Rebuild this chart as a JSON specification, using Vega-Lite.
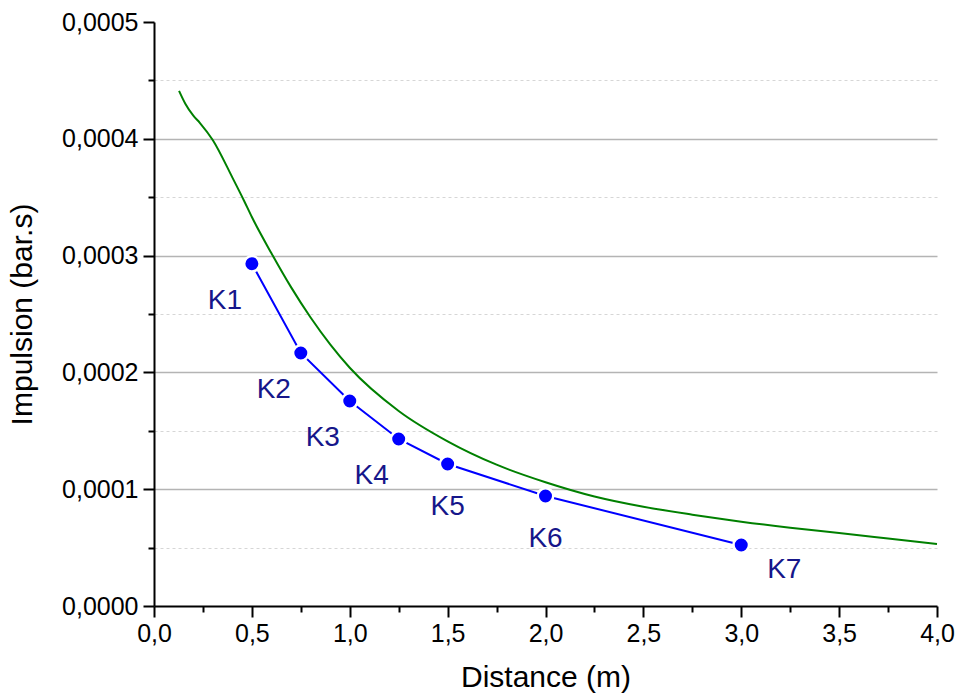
{
  "$schema": "https://vega.github.io/schema/vega-lite/v6.json",
  "width": 783,
  "height": 584,
  "autosize": {"type": "none"},
  "padding": {"left": 154, "top": 22, "right": 20, "bottom": 88},
  "background": "white",
  "config": {
    "view": {"stroke": null},
    "font": "Liberation Sans"
  },
  "datasets": {
    "curve": [
      {"d": 0.128, "imp": 0.000441},
      {"d": 0.16, "imp": 0.000430},
      {"d": 0.2, "imp": 0.000420},
      {"d": 0.235, "imp": 0.0004135},
      {"d": 0.3, "imp": 0.000399},
      {"d": 0.4, "imp": 0.000367},
      {"d": 0.46, "imp": 0.000347},
      {"d": 0.5, "imp": 0.000333},
      {"d": 0.6, "imp": 0.000302},
      {"d": 0.7, "imp": 0.000273},
      {"d": 0.8, "imp": 0.000247},
      {"d": 0.9, "imp": 0.000224},
      {"d": 1.0, "imp": 0.000204},
      {"d": 1.25, "imp": 0.000167},
      {"d": 1.5, "imp": 0.000141},
      {"d": 1.75, "imp": 0.000121},
      {"d": 2.0, "imp": 0.000106},
      {"d": 2.25, "imp": 0.0000938},
      {"d": 2.5, "imp": 0.0000850},
      {"d": 2.75, "imp": 0.0000782},
      {"d": 3.0, "imp": 0.0000722},
      {"d": 3.25, "imp": 0.0000670},
      {"d": 3.5, "imp": 0.0000624},
      {"d": 3.75, "imp": 0.0000577},
      {"d": 4.0, "imp": 0.0000530}
    ],
    "points": [
      {"d": 0.5, "imp": 0.000293, "label": "K1"},
      {"d": 0.75, "imp": 0.0002166, "label": "K2"},
      {"d": 1.0, "imp": 0.0001755, "label": "K3"},
      {"d": 1.25, "imp": 0.000143, "label": "K4"},
      {"d": 1.5, "imp": 0.0001216, "label": "K5"},
      {"d": 2.0, "imp": 0.0000942, "label": "K6"},
      {"d": 3.0, "imp": 0.0000522, "label": "K7"}
    ]
  },
  "encoding": {
    "x": {
      "field": "d",
      "type": "quantitative",
      "scale": {"domain": [0, 4], "nice": false, "zero": false},
      "axis": {
        "title": "Distance (m)",
        "values": [0, 0.25, 0.5, 0.75, 1, 1.25, 1.5, 1.75, 2, 2.25, 2.5, 2.75, 3, 3.25, 3.5, 3.75, 4],
        "labelExpr": "abs(round(datum.value*2) - datum.value*2) < 0.001 ? replace(format(datum.value, '.1f'), '.', ',') : ''",
        "grid": false,
        "domainColor": "black",
        "domainWidth": 2,
        "tickColor": "black",
        "tickWidth": 2,
        "tickSize": {"condition": {"test": "abs(round(datum.value*2) - datum.value*2) < 0.001", "value": 11}, "value": 6},
        "labelFontSize": 25,
        "labelColor": "black",
        "labelPadding": 4,
        "labelFlush": false,
        "labelOverlap": false,
        "titleFontSize": 30,
        "titleFontWeight": "normal",
        "titleColor": "black",
        "titlePadding": 16
      }
    },
    "y": {
      "field": "imp",
      "type": "quantitative",
      "scale": {"domain": [0, 0.0005], "nice": false, "zero": false},
      "axis": {
        "title": "Impulsion (bar.s)",
        "values": [0, 0.00005, 0.0001, 0.00015, 0.0002, 0.00025, 0.0003, 0.00035, 0.0004, 0.00045, 0.0005],
        "labelExpr": "abs(round(datum.value*10000) - datum.value*10000) < 0.001 ? replace(format(datum.value, '.4f'), '.', ',') : ''",
        "grid": true,
        "gridColor": {"condition": {"test": "abs(round(datum.value*10000) - datum.value*10000) < 0.001", "value": "#b4b4b4"}, "value": "#d6d6d6"},
        "gridDash": {"condition": {"test": "abs(round(datum.value*10000) - datum.value*10000) < 0.001", "value": []}, "value": [3, 3]},
        "gridWidth": {"condition": {"test": "abs(round(datum.value*10000) - datum.value*10000) < 0.001", "value": 1.5}, "value": 1},
        "gridOpacity": {"condition": {"test": "datum.value < 0.00001 || datum.value > 0.00049", "value": 0}, "value": 1},
        "domainColor": "black",
        "domainWidth": 2,
        "tickColor": "black",
        "tickWidth": 2,
        "tickSize": {"condition": {"test": "abs(round(datum.value*10000) - datum.value*10000) < 0.001", "value": 11}, "value": 6},
        "labelFontSize": 25,
        "labelColor": "black",
        "labelPadding": 5,
        "labelFlush": false,
        "labelOverlap": false,
        "titleFontSize": 30,
        "titleFontWeight": "normal",
        "titleColor": "black",
        "titlePadding": 24
      }
    }
  },
  "layer": [
    {
      "data": {"name": "curve"},
      "mark": {"type": "line", "color": "#008000", "strokeWidth": 2, "interpolate": "monotone"}
    },
    {
      "data": {"name": "points"},
      "mark": {"type": "line", "color": "#0000ff", "strokeWidth": 2}
    },
    {
      "data": {"name": "points"},
      "mark": {"type": "point", "shape": "circle", "filled": true, "color": "#0000ff", "size": 240, "opacity": 1, "stroke": "white", "strokeWidth": 2.5}
    },
    {
      "data": {"name": "points"},
      "transform": [{"filter": "indexof(['K1','K2','K3','K4'], datum.label) >= 0"}],
      "mark": {"type": "text", "fontSize": 28, "color": "#16168a", "align": "center", "baseline": "middle", "dx": -27, "dy": 37},
      "encoding": {"text": {"field": "label"}}
    },
    {
      "data": {"name": "points"},
      "transform": [{"filter": "indexof(['K5','K6'], datum.label) >= 0"}],
      "mark": {"type": "text", "fontSize": 28, "color": "#16168a", "align": "center", "baseline": "middle", "dx": 0, "dy": 43},
      "encoding": {"text": {"field": "label"}}
    },
    {
      "data": {"name": "points"},
      "transform": [{"filter": "datum.label == 'K7'"}],
      "mark": {"type": "text", "fontSize": 28, "color": "#16168a", "align": "center", "baseline": "middle", "dx": 43, "dy": 25},
      "encoding": {"text": {"field": "label"}}
    }
  ]
}
